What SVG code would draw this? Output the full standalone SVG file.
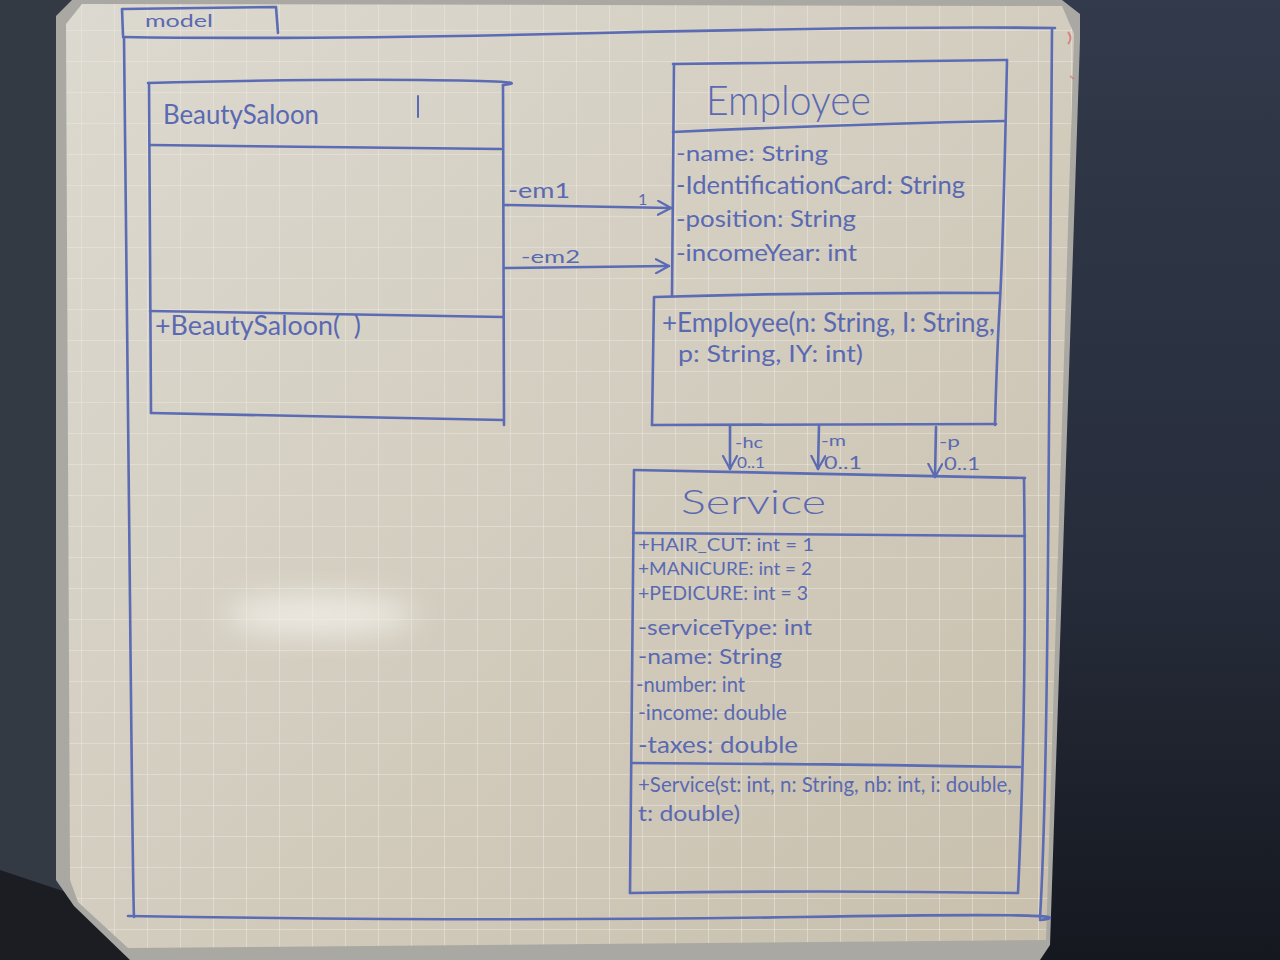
<svg xmlns="http://www.w3.org/2000/svg" width="1280" height="960" viewBox="0 0 1280 960">
  <defs>
    <style>
      .ink { fill: none; stroke: #5b6bb4; stroke-width: 2.6; stroke-linecap: round; stroke-linejoin: round; }
      .inkthin { fill: none; stroke: #5b6bb4; stroke-width: 2; stroke-linecap: round; stroke-linejoin: round; }
      .t { font-family: "Lato", "Liberation Sans", sans-serif; fill: #5a69b2; }
      .grid { stroke: #ebe8e1; stroke-width: 1.6; opacity: 0.65; }
    </style>
    <linearGradient id="boardShade" x1="0" y1="0" x2="1" y2="1">
      <stop offset="0" stop-color="#dcd9d0"/>
      <stop offset="0.5" stop-color="#d3cdbf"/>
      <stop offset="1" stop-color="#c8bfac"/>
    </linearGradient>
    <linearGradient id="rightWall" x1="0" y1="0" x2="0" y2="1">
      <stop offset="0" stop-color="#323a4b"/>
      <stop offset="0.6" stop-color="#262c3a"/>
      <stop offset="1" stop-color="#15181f"/>
    </linearGradient>
    <pattern id="gridPat" x="15" y="30" width="33" height="31" patternUnits="userSpaceOnUse">
      <line class="grid" x1="0" y1="0" x2="0" y2="31"/>
      <line class="grid" x1="0" y1="0" x2="33" y2="0"/>
    </pattern>
    <filter id="soft" x="-50%" y="-50%" width="200%" height="200%">
      <feGaussianBlur stdDeviation="14"/>
    </filter>
    <marker id="openHead" viewBox="0 0 16 16" refX="14" refY="8" markerWidth="16" markerHeight="16" markerUnits="userSpaceOnUse" orient="auto">
      <path d="M1,1 L14,8 L1,15" fill="none" stroke="#5b6bb4" stroke-width="2.2" stroke-linecap="round" stroke-linejoin="round"/>
    </marker>
  </defs>

  <!-- wall behind the board -->
  <rect x="0" y="0" width="1280" height="960" fill="url(#rightWall)"/>
  <rect x="0" y="0" width="70" height="960" fill="#343a44"/>
  <polygon points="0,870 90,900 140,960 0,960" fill="#1b1d22"/>

  <!-- aluminium frame -->
  <polygon points="56,16 72,0 1062,0 1080,14 1080,40 1050,945 1040,960 130,960 74,906 56,880" fill="#a9a8a3"/>
  <!-- board surface -->
  <polygon id="board" points="66,24 82,4 1062,6 1074,34 1046,940 128,948 78,902 70,880" fill="url(#boardShade)"/>
  <polygon points="66,24 82,4 1062,6 1074,34 1046,940 128,948 78,902 70,880" fill="url(#gridPat)"/>
  <!-- glare on the board -->
  <ellipse cx="320" cy="615" rx="95" ry="22" fill="#f4f2ec" opacity="0.7" filter="url(#soft)"/>
  <!-- red marks at the right edge -->
  <path d="M1068,32 q5,6 0,12" fill="none" stroke="#d86a6a" stroke-width="2" opacity="0.7"/>
  <path d="M1070,76 l4,3" fill="none" stroke="#d86a6a" stroke-width="2" opacity="0.6"/>

  <!-- package "model" -->
  <g id="package-model">
    <path class="ink" d="M123,35 L122,9 L276,7 L278,33"/>
    <path class="ink" d="M123,37 Q300,40 600,33 T1055,28"/>
    <path class="ink" d="M124,37 Q127,300 130,600 T134,917"/>
    <path class="ink" d="M1052,29 Q1050,300 1048,560 T1040,918"/>
    <path class="ink" d="M128,916 Q500,922 800,917 T1040,920"/>
    <text class="t" x="145" y="27" font-size="18" textLength="68" lengthAdjust="spacingAndGlyphs">model</text>
  </g>

  <!-- class BeautySaloon -->
  <g id="node-BeautySaloon">
    <path class="ink" d="M148,83 Q300,79 420,80 T503,85"/>
    <path class="ink" d="M149,83 L151,413"/>
    <path class="ink" d="M503,85 L504,425"/>
    <path class="ink" d="M151,413 L503,420"/>
    <path class="ink" d="M150,145 L501,149"/>
    <path class="ink" d="M150,311 L503,317"/>
    <path class="inkthin" d="M418,96 L418,117"/>
    <text class="t" x="163" y="124" font-size="27" textLength="156" lengthAdjust="spacingAndGlyphs">BeautySaloon</text>
    <text class="t" x="155" y="335" font-size="26" textLength="206" lengthAdjust="spacingAndGlyphs">+BeautySaloon(&#160;&#160;)</text>
  </g>

  <!-- class Employee -->
  <g id="node-Employee">
    <path class="ink" d="M673,64 Q850,62 1007,60"/>
    <path class="ink" d="M674,64 L672,296"/>
    <path class="ink" d="M1007,60 Q1003,250 1000,300 T995,425"/>
    <path class="ink" d="M673,132 Q850,124 1005,121"/>
    <path class="ink" d="M655,297 Q820,292 1000,293"/>
    <path class="ink" d="M654,297 L652,425"/>
    <path class="ink" d="M652,425 L996,424"/>
    <text class="t" x="706" y="115" font-size="42" font-weight="300" textLength="165" lengthAdjust="spacingAndGlyphs">Employee</text>
    <text class="t" x="676" y="161" font-size="22" textLength="152" lengthAdjust="spacingAndGlyphs">-name: String</text>
    <text class="t" x="676" y="194" font-size="25" textLength="289" lengthAdjust="spacingAndGlyphs">-IdentificationCard: String</text>
    <text class="t" x="676" y="227" font-size="23" textLength="180" lengthAdjust="spacingAndGlyphs">-position: String</text>
    <text class="t" x="676" y="261" font-size="23" textLength="181" lengthAdjust="spacingAndGlyphs">-incomeYear: int</text>
    <text class="t" x="662" y="332" font-size="26" textLength="333" lengthAdjust="spacingAndGlyphs">+Employee(n: String, I: String,</text>
    <text class="t" x="678" y="362" font-size="24" textLength="185" lengthAdjust="spacingAndGlyphs">p: String, IY: int)</text>
  </g>

  <!-- class Service -->
  <g id="node-Service">
    <path class="ink" d="M634,470 Q830,474 1025,478"/>
    <path class="ink" d="M634,471 Q631,700 630,893"/>
    <path class="ink" d="M1024,478 Q1027,700 1018,893"/>
    <path class="ink" d="M630,893 Q820,890 1018,893"/>
    <path class="ink" d="M633,533 Q830,534 1025,536"/>
    <path class="ink" d="M632,763 Q820,764 1020,767"/>
    <text class="t" x="681" y="514" font-size="34" font-weight="300" textLength="145" lengthAdjust="spacingAndGlyphs">Service</text>
    <text class="t" x="638" y="551" font-size="17" textLength="176" lengthAdjust="spacingAndGlyphs">+HAIR_CUT: int = 1</text>
    <text class="t" x="638" y="575" font-size="18" textLength="174" lengthAdjust="spacingAndGlyphs">+MANICURE: int = 2</text>
    <text class="t" x="638" y="600" font-size="20" textLength="170" lengthAdjust="spacingAndGlyphs">+PEDICURE: int = 3</text>
    <text class="t" x="638" y="635" font-size="22" textLength="174" lengthAdjust="spacingAndGlyphs">-serviceType: int</text>
    <text class="t" x="638" y="664" font-size="22" textLength="144" lengthAdjust="spacingAndGlyphs">-name: String</text>
    <text class="t" x="636" y="692" font-size="22" textLength="109" lengthAdjust="spacingAndGlyphs">-number: int</text>
    <text class="t" x="638" y="720" font-size="22" textLength="149" lengthAdjust="spacingAndGlyphs">-income: double</text>
    <text class="t" x="638" y="753" font-size="24" textLength="160" lengthAdjust="spacingAndGlyphs">-taxes: double</text>
    <text class="t" x="638" y="792" font-size="22" textLength="374" lengthAdjust="spacingAndGlyphs">+Service(st: int, n: String, nb: int, i: double,</text>
    <text class="t" x="638" y="821" font-size="22" textLength="102" lengthAdjust="spacingAndGlyphs">t: double)</text>
  </g>

  <!-- associations -->
  <g id="connectors">
    <path class="ink" d="M504,205 L671,208" marker-end="url(#openHead)"/>
    <path class="ink" d="M504,268 L669,266" marker-end="url(#openHead)"/>
    <path class="ink" d="M730,425 L730,469" marker-end="url(#openHead)"/>
    <path class="ink" d="M819,425 L818,469" marker-end="url(#openHead)"/>
    <path class="ink" d="M936,427 L935,477" marker-end="url(#openHead)"/>
    <text class="t" x="508" y="198" font-size="21" textLength="62" lengthAdjust="spacingAndGlyphs">-em1</text>
    <text class="t" x="638" y="205" font-size="16">1</text>
    <text class="t" x="521" y="263" font-size="18" textLength="59" lengthAdjust="spacingAndGlyphs">-em2</text>
    <text class="t" x="735" y="448" font-size="16" textLength="28" lengthAdjust="spacingAndGlyphs">-hc</text>
    <text class="t" x="737" y="468" font-size="16" textLength="28" lengthAdjust="spacingAndGlyphs">0..1</text>
    <text class="t" x="821" y="446" font-size="16" textLength="25" lengthAdjust="spacingAndGlyphs">-m</text>
    <text class="t" x="824" y="469" font-size="17" textLength="38" lengthAdjust="spacingAndGlyphs">0..1</text>
    <text class="t" x="939" y="447" font-size="16" textLength="21" lengthAdjust="spacingAndGlyphs">-p</text>
    <text class="t" x="944" y="470" font-size="17" textLength="36" lengthAdjust="spacingAndGlyphs">0..1</text>
  </g>
</svg>
